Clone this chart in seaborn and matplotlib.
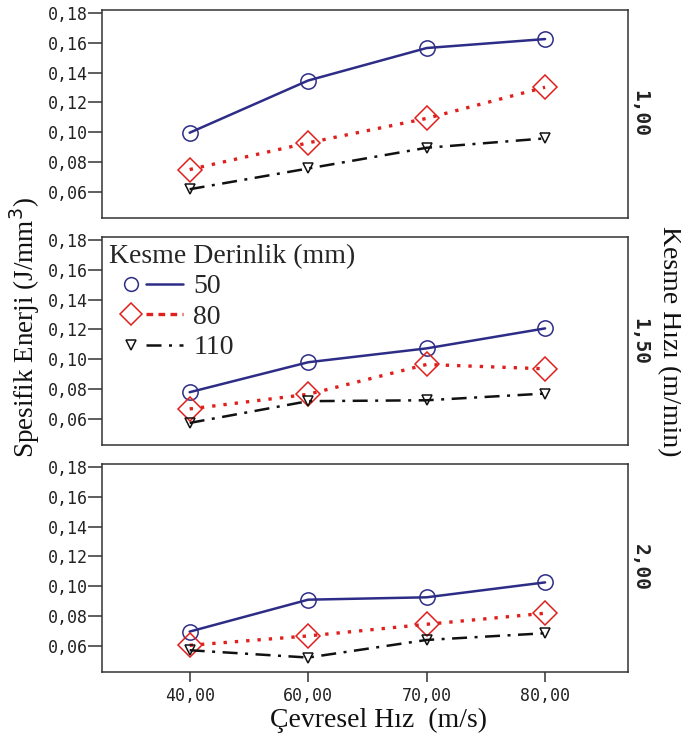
import matplotlib
matplotlib.use("Agg")
import matplotlib.pyplot as plt
import seaborn as sns
import pandas as pd
from matplotlib.lines import Line2D
from matplotlib.legend_handler import HandlerBase

sns.set_theme(style="white")
plt.rcParams['font.family'] = ['DejaVu Sans']

speeds = ["40,00", "60,00", "70,00", "80,00"]
depths = ["50", "80", "110"]
feed_rates = ["1,00", "1,50", "2,00"]

# values per feed rate panel, per depth
p100_d50 = [0.0997, 0.1347, 0.1565, 0.1625]
p100_d80 = [0.0750, 0.0929, 0.1093, 0.1302]
p100_d110 = [0.0618, 0.0757, 0.0896, 0.0959]

p150_d50 = [0.0779, 0.0980, 0.1073, 0.1207]
p150_d80 = [0.0667, 0.0765, 0.0965, 0.0936]
p150_d110 = [0.0573, 0.0719, 0.0725, 0.0770]

p200_d50 = [0.0696, 0.0910, 0.0926, 0.1026]
p200_d80 = [0.0604, 0.0667, 0.0745, 0.0819]
p200_d110 = [0.0571, 0.0522, 0.0640, 0.0685]

yticks = [0.06, 0.08, 0.10, 0.12, 0.14, 0.16, 0.18]
ytick_labels = ["0,06", "0,08", "0,10", "0,12", "0,14", "0,16", "0,18"]

panels = [
    (feed_rates[0], [p100_d50, p100_d80, p100_d110]),
    (feed_rates[1], [p150_d50, p150_d80, p150_d110]),
    (feed_rates[2], [p200_d50, p200_d80, p200_d110]),
]

styles = {
    "50": dict(color="#2d2d87", marker="o", ms=11, ls="-", lw=1.8),
    "80": dict(color="#e0201c", marker="D", ms=12, ls=(0, (1, 2.4)), lw=2.4),
    "110": dict(color="#111111", marker="v", ms=7, ls=(0, (6, 3, 1.2, 3)), lw=1.8),
}
legend_ls = {"50": "-", "80": (0, (2, 1.6)), "110": (0, (6, 3, 1.2, 3))}


class MarkerThenLine(HandlerBase):
    def create_artists(self, legend, orig_handle, xdescent, ydescent,
                       width, height, fontsize, trans):
        d = orig_handle
        st = styles[d]
        y = height / 2 - ydescent
        x0 = -xdescent
        mk = Line2D([x0 + 0.29 * width], [y], marker=st["marker"],
                    ms=st["ms"] * 0.9 if d != "110" else st["ms"],
                    mfc="none", mec=st["color"], mew=1.1, ls="none")
        ln = Line2D([x0 + 0.49 * width, x0 + 0.97 * width], [y, y],
                    color=st["color"], ls=legend_ls[d], lw=st["lw"])
        for a in (mk, ln):
            a.set_transform(trans)
        return [mk, ln]


W, H = 681, 740
fig = plt.figure(figsize=(W / 100, H / 100), dpi=100)
left_px, right_px = 102, 628
tops = [10, 237, 464]
ph = 208

serif = "Liberation Serif"
mono = "DejaVu Sans Mono"

axes = []
for i, (fr, series) in enumerate(panels):
    ax = fig.add_axes([left_px / W, 1 - (tops[i] + ph) / H,
                       (right_px - left_px) / W, ph / H])
    axes.append(ax)
    for d, vals in zip(depths, series):
        st = styles[d]
        df = pd.DataFrame({"speed": speeds, "energy": vals})
        sns.lineplot(data=df, x="speed", y="energy", ax=ax, sort=False,
                     color=st["color"], marker=st["marker"], markersize=st["ms"],
                     markerfacecolor="none", markeredgecolor=st["color"],
                     markeredgewidth=1.1, linestyle=st["ls"], linewidth=st["lw"])
    ax.set_xlim(-0.74, 3.70)
    ax.set_ylim(0.0425, 0.182)
    ax.set_yticks(yticks)
    ax.set_yticklabels(ytick_labels, family=mono, fontsize=12, color="#222222")
    ax.set_xlabel("")
    ax.set_ylabel("")
    ax.tick_params(axis="y", direction="out", length=10, width=1.1, color="#333333",
                   left=True, pad=0.5)
    ax.set_xticks(range(len(speeds)))
    if i < 2:
        ax.tick_params(axis="x", bottom=False, labelbottom=False)
    else:
        ax.set_xticklabels(speeds, family=mono, fontsize=12, color="#222222")
        ax.tick_params(axis="x", direction="out", length=7, width=1.1,
                       color="#333333", bottom=True, pad=4)
    for sp in ax.spines.values():
        sp.set_color("#333333")
        sp.set_linewidth(1.1)
    ax.text(640 / W, 1 - (tops[i] + ph / 2) / H, fr, transform=fig.transFigure,
            rotation=270, ha="center", va="center", family=mono, fontsize=14,
            fontweight="bold", color="#222222")

# legend in middle panel (no frame, lines stay visible)
leg = axes[1].legend(depths, depths, title="Kesme Derinlik (mm)",
                     handler_map={str: MarkerThenLine()},
                     loc="upper left", bbox_to_anchor=(0.0, 1.0),
                     frameon=False,
                     prop={"family": serif, "size": 20},
                     title_fontproperties={"family": serif, "size": 20},
                     handlelength=2.73, handletextpad=0.3, labelspacing=0.18,
                     borderaxespad=0.1, borderpad=0.15)
leg._legend_box.align = "left"

fig.text(25 / W, 1 - 328 / H, "Spesifik Enerji (J/mm$^3$)", rotation=90,
         ha="center", va="center", family=serif, fontsize=19.5, color="#111111")
fig.text(669 / W, 1 - 341 / H, "Kesme Hızı (m/min)", rotation=270,
         ha="center", va="center", family=serif, fontsize=20, color="#111111")
fig.text(378 / W, 1 - 720 / H, "Çevresel Hız  (m/s)", ha="center", va="center",
         family=serif, fontsize=20, color="#111111")

fig.savefig("out.png", dpi=100)
